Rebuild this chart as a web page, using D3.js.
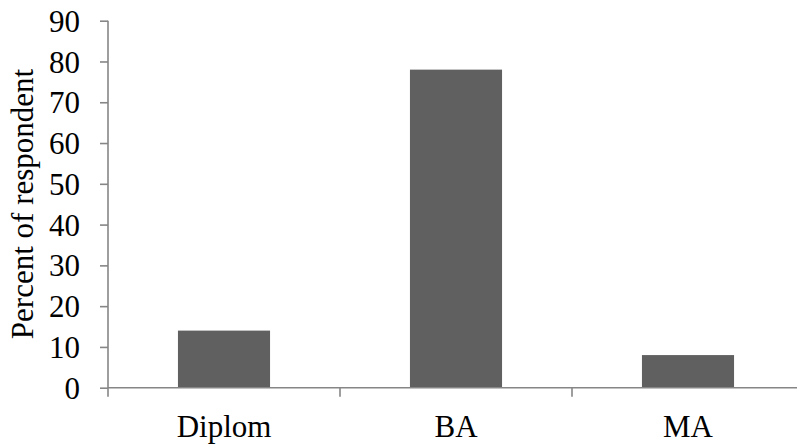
<!DOCTYPE html>
<html>
<head>
<meta charset="utf-8">
<script src="https://cdn.jsdelivr.net/npm/d3@7"></script>
<style>
html,body{margin:0;padding:0;background:#fff;}
svg{display:block;}
svg text{font-family:'Liberation Serif','Times New Roman',Times,'Nimbus Roman','Nimbus Roman No9 L',serif !important;fill:#000;}
</style>
</head>
<body>
<svg id="chart" width="797" height="445"></svg>
<script>
const categories = ["Diplom", "BA", "MA"];
const values = [14, 78, 8];
const yTicks = [0, 10, 20, 30, 40, 50, 60, 70, 80, 90];
const yTitle = "Percent of respondent";

const svg = d3.select("#chart");
const axisColor = "#868686";
const barColor = "#606060";
const fontSize = 31;
const plotLeft = 108, plotRight = 804, plotTop = 20.7, plotBottom = 387.7;

const x = d3.scaleBand().domain(categories).range([plotLeft, plotRight]).padding(0);
const y = d3.scaleLinear().domain([0, 90]).range([plotBottom, plotTop]);
const barFrac = 0.397;

// bars
svg.append("g").selectAll("rect").data(categories).join("rect")
  .attr("x", d => x(d) + x.bandwidth() * (1 - barFrac) / 2)
  .attr("width", x.bandwidth() * barFrac)
  .attr("y", (d, i) => y(values[i]))
  .attr("height", (d, i) => y(0) - y(values[i]))
  .attr("fill", barColor);

// y axis
const yAxis = svg.append("g").attr("transform", `translate(${plotLeft},0)`)
  .call(d3.axisLeft(y).tickValues(yTicks).tickSize(8).tickPadding(20).tickSizeOuter(0));
yAxis.attr("font-family", null);
yAxis.select(".domain").attr("stroke", axisColor).attr("stroke-width", 1.6)
  .attr("d", `M0,${plotTop}V${plotBottom + 9}`);
yAxis.selectAll(".tick line").attr("stroke", axisColor).attr("stroke-width", 1.6);
yAxis.selectAll(".tick text").attr("font-size", fontSize).attr("fill", "#000").attr("dy", "0.34em");

// x axis
const xAxis = svg.append("g").attr("transform", `translate(0,${plotBottom})`)
  .call(d3.axisBottom(x).tickSize(0).tickPadding(0).tickSizeOuter(0));
xAxis.attr("font-family", null);
xAxis.select(".domain").attr("stroke", axisColor).attr("stroke-width", 1.6)
  .attr("d", `M${plotLeft},0H${plotRight}`);
xAxis.selectAll(".tick text").attr("font-size", fontSize).attr("fill", "#000")
  .attr("y", 49).attr("dy", 0);
// boundary tick marks between categories
const bounds = categories.slice(1).map(c => x(c));
xAxis.selectAll(".bound").data(bounds).join("line").attr("class", "bound")
  .attr("x1", d => d).attr("x2", d => d).attr("y1", 0).attr("y2", 9)
  .attr("stroke", axisColor).attr("stroke-width", 1.6);

// y title
svg.append("text")
  .attr("transform", `translate(33,204) rotate(-90)`)
  .attr("text-anchor", "middle")
  .attr("font-size", fontSize)
  .text(yTitle);
</script>
</body>
</html>
